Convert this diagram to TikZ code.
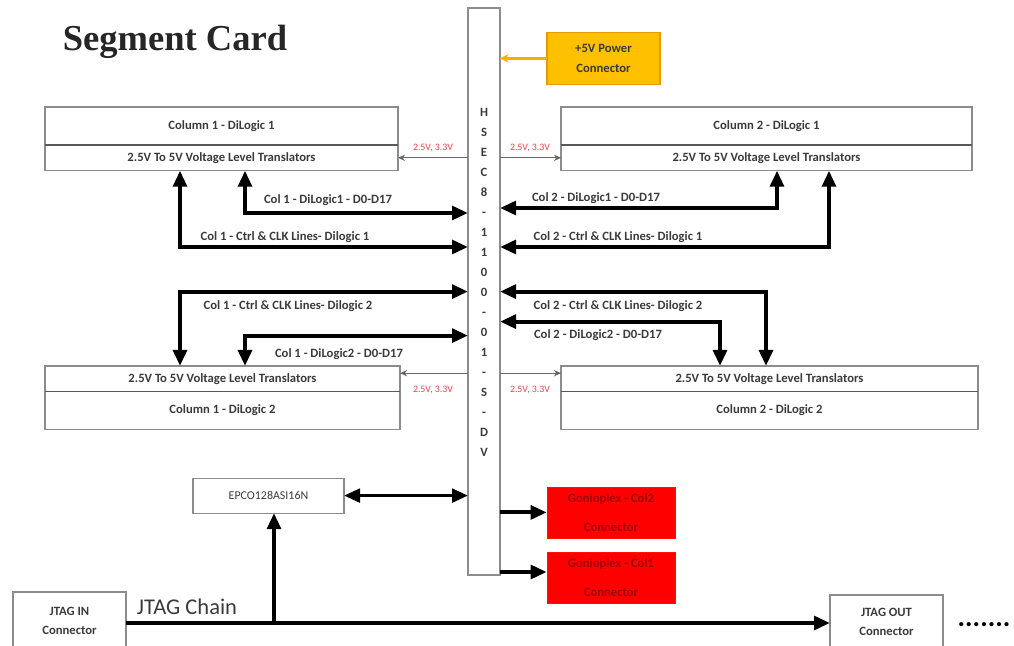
\documentclass[tikz,border=0pt]{standalone}
\usepackage{fontspec}
\setmainfont{Carlito}
\newfontfamily\titlefont{Liberation Serif}
\usetikzlibrary{positioning, arrows.meta}

\definecolor{boxgray}{HTML}{8C8C8C}
\definecolor{textgray}{HTML}{3A3A3A}
\definecolor{voltred}{HTML}{E8434F}
\definecolor{pwrorange}{HTML}{FFC000}
\definecolor{pwrborder}{HTML}{E89A00}
\definecolor{pwrfeed}{HTML}{F5B000}
\definecolor{conred}{HTML}{FF0000}
\definecolor{condark}{HTML}{A00000}

\begin{document}
\begin{tikzpicture}[
        % Box style: thin grey outline, bold label
        block/.style={
                rectangle, draw=boxgray, line width=0.8pt,
                outer sep=0pt, inner sep=2pt,
                text=textgray,
                font=\fontsize{9}{14}\selectfont\bfseries
            },
        colbox/.style={block, minimum height=0.95cm},
        transbox/.style={block, minimum height=0.64cm},
        divider/.style={draw=black!65, line width=1.1pt},
        conbox/.style={
                rectangle, fill=conred, draw=conred!85!orange,
                minimum width=3.2cm, minimum height=1.27cm,
                align=center, text=condark,
                font=\fontsize{9}{21}\selectfont\bfseries
            },
        % Supply tags and thin feed lines
        volt/.style={text=voltred, font=\fontsize{7}{8}\selectfont},
        vline/.style={draw=black!60, line width=0.8pt,
                -{Stealth[length=5pt,width=4.5pt]}},
        % Thick signal buses
        >={Triangle[length=0.4cm,width=0.34cm]},
        bus/.style={line width=2.8pt},
        buslabel/.style={text=textgray, font=\fontsize{9}{11}\selectfont\bfseries}
    ]

    \useasboundingbox (0,0) rectangle (25.35,-16.15);
    \clip (0,0) rectangle (25.35,-16.15);

    \node[font=\titlefont\fontsize{26}{30}\selectfont\bfseries, text=black!85]
    (title) at (4.375,-1.05) {Segment Card};

    %% ---- Board connector (vertical strip) ----
    \node[block, fill=white, minimum width=0.8cm, minimum height=14.175cm]
    (hsec) at (12.1,-7.2875) {};
    \node[font=\fontsize{9}{14.2}\selectfont\bfseries, text=textgray, align=center]
    (hsecname) at (12.1,-7.06)
    {H\\S\\E\\C\\8\\-\\1\\1\\0\\0\\-\\0\\1\\-\\S\\-\\D\\V};

    %% ---- Power input ----
    \node[block, fill=pwrorange, draw=pwrborder, align=center,
        minimum width=2.825cm, minimum height=1.29cm]
    (power) at (15.0875,-1.46) {+5V Power\\Connector};
    \draw[pwrfeed, line width=1.6pt, -{Stealth[length=6pt,width=6pt]}]
    (power.west) -- (power.west -| hsec.east);

    %% ---- DiLogic 1 boxes ----
    \node[colbox, minimum width=8.825cm, anchor=north west]
    (c1d1) at (1.125,-2.675) {Column 1 - DiLogic 1};
    \node[transbox, minimum width=8.825cm, below=0pt of c1d1]
    (t1d1) {2.5V To 5V Voltage Level Translators};
    \draw[divider] (c1d1.south west) -- (c1d1.south east);

    \node[colbox, minimum width=10.275cm, anchor=north west]
    (c2d1) at (14.025,-2.675) {Column 2 - DiLogic 1};
    \node[transbox, minimum width=10.275cm, below=0pt of c2d1]
    (t2d1) {2.5V To 5V Voltage Level Translators};
    \draw[divider] (c2d1.south west) -- (c2d1.south east);

    %% ---- DiLogic 2 boxes ----
    \node[transbox, minimum width=8.875cm, anchor=north west]
    (t1d2) at (1.125,-9.15) {2.5V To 5V Voltage Level Translators};
    \node[colbox, minimum width=8.875cm, below=0pt of t1d2]
    (c1d2) {Column 1 - DiLogic 2};
    \draw[divider] (t1d2.south west) -- (t1d2.south east);

    \node[transbox, minimum width=10.425cm, anchor=north west]
    (t2d2) at (14.025,-9.15) {2.5V To 5V Voltage Level Translators};
    \node[colbox, minimum width=10.425cm, below=0pt of t2d2]
    (c2d2) {Column 2 - DiLogic 2};
    \draw[divider] (t2d2.south west) -- (t2d2.south east);

    %% ---- Supply feeds to the translators ----
    \draw[vline] (hsec.west |- t1d1.east) -- (t1d1.east);
    \draw[vline] (hsec.east |- t2d1.west) -- (t2d1.west);
    \draw[vline] (hsec.west |- 0,-9.33) -- (t1d2.east |- 0,-9.33);
    \draw[vline] (hsec.east |- 0,-9.33) -- (t2d2.west |- 0,-9.33);

    \node[volt] (v1) at (10.825,-3.7) {2.5V, 3.3V};
    \node[volt] (v2) at (13.25,-3.7) {2.5V, 3.3V};
    \node[volt] (v3) at (10.825,-9.75) {2.5V, 3.3V};
    \node[volt] (v4) at (13.25,-9.75) {2.5V, 3.3V};

    %% ---- Buses, DiLogic 1 ----
    \draw[bus, <->] ([xshift=5cm]t1d1.south west) |- (hsec.west |- 0,-5.325);
    \draw[bus, <->] ([xshift=3.375cm]t1d1.south west) |- (hsec.west |- 0,-6.175);
    \draw[bus, <->] (hsec.east |- 0,-5.2) -| ([xshift=5.4cm]t2d1.south west);
    \draw[bus, <->] (hsec.east |- 0,-6.175) -| ([xshift=6.7cm]t2d1.south west);

    \node[buslabel] (l1) at (8.2,-5.0) {Col 1 - DiLogic1 - D0-D17};
    \node[buslabel] (l2) at (7.125,-5.925) {Col 1 - Ctrl \& CLK Lines- Dilogic 1};
    \node[buslabel] (l3) at (14.9,-4.95) {Col 2 - DiLogic1 - D0-D17};
    \node[buslabel] (l4) at (15.45,-5.925) {Col 2 - Ctrl \& CLK Lines- Dilogic 1};

    %% ---- Buses, DiLogic 2 ----
    \draw[bus, <->] (hsec.west |- 0,-7.29) -| ([xshift=3.375cm]t1d2.north west);
    \draw[bus, <->] (hsec.west |- 0,-8.39) -| ([xshift=5cm]t1d2.north west);
    \draw[bus, <->] (hsec.east |- 0,-7.29) -| ([xshift=5.125cm]t2d2.north west);
    \draw[bus, <->] (hsec.east |- 0,-8.04) -| ([xshift=3.975cm]t2d2.north west);

    \node[buslabel] (l5) at (7.2,-7.65) {Col 1 - Ctrl \& CLK Lines- Dilogic 2};
    \node[buslabel] (l6) at (8.475,-8.85) {Col 1 - DiLogic2 - D0-D17};
    \node[buslabel] (l7) at (15.45,-7.65) {Col 2 - Ctrl \& CLK Lines- Dilogic 2};
    \node[buslabel] (l8) at (14.95,-8.375) {Col 2 - DiLogic2 - D0-D17};

    %% ---- Config flash ----
    \node[block, font=\fontsize{8.5}{10}\selectfont,
        minimum width=3.775cm, minimum height=0.875cm]
    (epco) at (6.7125,-12.39) {EPCO128ASI16N};
    \draw[bus, line width=2.4pt, <->] (epco.east) -- (epco.east -| hsec.west);

    %% ---- Outgoing connectors ----
    \node[conbox] (gc2) at (15.275,-12.81) {Gonioplex - Col2\\Connector};
    \node[conbox, below=0.35cm of gc2] (gc1) {Gonioplex - Col1\\Connector};
    \draw[bus, ->] (hsec.east |- gc2.west) -- (gc2.west);
    \draw[bus, ->] (hsec.east |- 0,-14.3) -- (gc1.west |- 0,-14.3);

    %% ---- JTAG chain ----
    \node[block, align=center, minimum width=2.825cm, minimum height=1.45cm,
        anchor=north west] (jin) at (0.325,-14.8) {JTAG IN\\Connector};
    \node[block, align=center, minimum width=2.825cm, minimum height=1.35cm,
        anchor=north west] (jout) at (20.75,-14.875) {JTAG OUT\\Connector};
    \coordinate (tap) at (6.85,-15.575);
    \draw[bus, ->] (jin.east |- tap) -- (jout.west |- tap);
    \draw[bus, ->] (tap) -- (tap |- epco.south);

    \node[font=\fontsize{16}{19}\selectfont, text=textgray]
    (chain) at (4.675,-15.175) {JTAG Chain};
    \node[font=\fontsize{20}{22}\selectfont\bfseries] (more) at (24.6,-15.62) {.......};

\end{tikzpicture}
\end{document}
